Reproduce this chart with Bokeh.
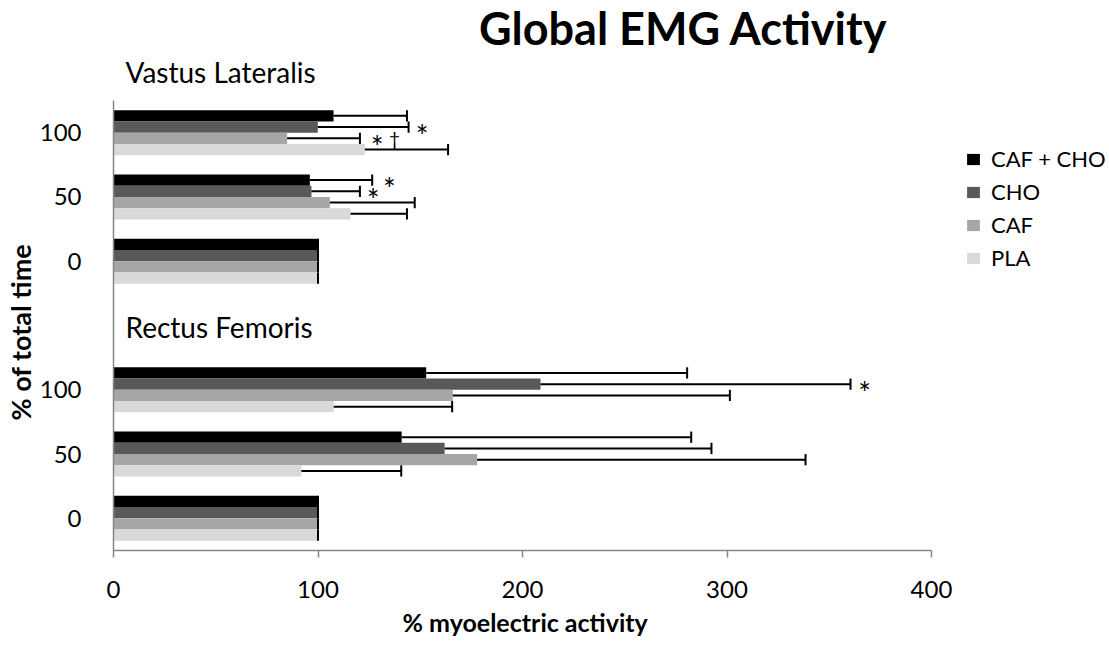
from bokeh.plotting import figure
from bokeh.models import Range1d, Label, Legend, LegendItem, FixedTicker, ColumnDataSource, Title
from bokeh.embed import file_html
from bokeh.resources import INLINE
from bokeh.core.properties import value

# ---------------- data ----------------
groups = ["VL 100", "VL 50", "VL 0", "RF 100", "RF 50", "RF 0"]
group_tick_labels = ["100", "50", "0", "100", "50", "0"]
series = ["CAF + CHO", "CHO", "CAF", "PLA"]

mean_caf_cho = [107.6, 96.0, 100.0, 152.9, 140.9, 100.0]
sd_caf_cho = [35.9, 30.5, 0.0, 127.6, 141.6, 0.0]
mean_cho = [99.9, 96.8, 100.0, 208.8, 161.9, 100.0]
sd_cho = [44.4, 23.7, 0.0, 151.6, 130.5, 0.0]
mean_caf = [84.9, 105.8, 100.0, 165.9, 177.8, 100.0]
sd_caf = [35.6, 41.5, 0.0, 135.5, 160.6, 0.0]
mean_pla = [122.9, 115.9, 100.0, 107.7, 91.9, 100.0]
sd_pla = [40.7, 27.6, 0.0, 57.9, 48.8, 0.0]

x_ticks = [0, 100, 200, 300, 400]
muscle_labels = ["Vastus Lateralis", "Rectus Femoris"]
chart_title = "Global EMG Activity"
x_title = "% myoelectric activity"
y_title = "% of total time"

# significance markers: (series, group, symbol)
sig_series = ["CHO", "CAF", "CAF", "CAF + CHO", "CHO", "CHO"]
sig_group = ["VL 100", "VL 100", "VL 100", "VL 50", "VL 50", "RF 100"]
sig_text = ["*", "*", "\u2020", "*", "*", "*"]

# ---------------- layout / style ----------------
FONT = "Lato"
colors = ["#000000", "#595959", "#a6a6a6", "#d9d9d9"]
means = [mean_caf_cho, mean_cho, mean_caf, mean_pla]
sds = [sd_caf_cho, sd_cho, sd_caf, sd_pla]

W, H = 1109, 645
LEFT, BOTTOM = 113, 95           # px reserved for the axes
X_END_PX = 931                   # pixel where x = 400 sits
Y_TOP_PX = 100                   # pixel where the category axis starts
xmax = x_ticks[-1]
px_per_x = (X_END_PX - LEFT) / xmax
x_hi = (W - LEFT) / px_per_x
n_slots = 7
px_per_y = (H - BOTTOM - Y_TOP_PX) / n_slots
y_lo = -0.5
y_hi = y_lo + (H - BOTTOM) / px_per_y

# slot positions (top to bottom), with an empty slot between muscles
slots = [6 - i - (1 if i >= 3 else 0) for i in range(len(groups))]
bar_h = 0.70 / 4
offsets = [1.5 * bar_h, 0.5 * bar_h, -0.5 * bar_h, -1.5 * bar_h]
sig_dx = [13.6, 17.3, 34.6, 17.3, 13.3, 14.0]  # px to the right of error end


def ypx(py):
    """page pixel row -> data y"""
    return y_hi - py / px_per_y


def xpx(px):
    return (px - LEFT) / px_per_x


p = figure(width=W, height=H,
           x_range=Range1d(0, x_hi), y_range=Range1d(y_lo, y_hi),
           output_backend="svg", toolbar_location=None,
           min_border_left=LEFT, min_border_right=0,
           min_border_top=0, min_border_bottom=BOTTOM)
p.xgrid.visible = False
p.ygrid.visible = False
p.outline_line_color = None
p.background_fill_color = "white"
p.border_fill_color = "white"

renderers = []
for k, s in enumerate(series):
    ys = [sl + offsets[k] for sl in slots]
    src = ColumnDataSource(dict(y=ys, m=means[k], e=[m + d for m, d in zip(means[k], sds[k])],
                                y0=[y - bar_h / 2 for y in ys], y1=[y + bar_h / 2 for y in ys]))
    r = p.hbar(y="y", left=0, right="m", height=bar_h, source=src,
               fill_color=colors[k], line_color=None)
    renderers.append(r)
    p.segment(x0="m", y0="y", x1="e", y1="y", source=src, line_color="black", line_width=2)
    p.segment(x0="e", y0="y0", x1="e", y1="y1", source=src, line_color="black", line_width=2)

# significance markers
sx, sy, st, sfs, syo = [], [], [], [], []
for s, g, t in zip(sig_series, sig_group, sig_text):
    k = series.index(s)
    gi = groups.index(g)
    sx.append(means[k][gi] + sds[k][gi])
    sy.append(slots[gi] + offsets[k])
    st.append(t)
    sfs.append("30px" if t == "*" else "19px")
    syo.append(8 if t == "*" else 0)
p.text(x=sx, y=sy, text=st, x_offset=sig_dx, y_offset=syo,
       text_font=value(FONT), text_font_size=sfs, text_color="black",
       text_align="center", text_baseline="middle")

# axes
xa = p.xaxis[0]
xa.bounds = (0, xmax)
xa.ticker = FixedTicker(ticks=x_ticks)
xa.axis_line_color = "#868686"
xa.axis_line_width = 1.5
xa.major_tick_line_color = "#868686"
xa.major_tick_line_width = 1.5
xa.major_tick_in = 0
xa.major_tick_out = 7
xa.minor_tick_line_color = None
xa.major_label_text_font = FONT
xa.major_label_text_font_size = "24px"
xa.major_label_text_color = "black"
xa.major_label_standoff = 23

ya = p.yaxis[0]
ya.bounds = (y_lo, n_slots - 0.5)
ya.ticker = FixedTicker(ticks=slots)
ya.major_label_overrides = {sl: lab for sl, lab in zip(slots, group_tick_labels)}
ya.axis_line_color = "#868686"
ya.axis_line_width = 1.5
ya.major_tick_line_color = None
ya.minor_tick_line_color = None
ya.major_label_text_font = FONT
ya.major_label_text_font_size = "24px"
ya.major_label_text_color = "black"
ya.major_label_standoff = 26

# axis titles as side-panel titles so they can be centred on the bounded axes
p.add_layout(Title(text=x_title, text_font=FONT, text_font_size="25px",
                   text_font_style="bold", text_color="black",
                   align="left", offset=289, standoff=8), "below")
p.add_layout(Title(text=y_title, text_font=FONT, text_font_size="27px",
                   text_font_style="bold", text_color="black",
                   align="left", offset=130, standoff=0), "left")

# title and group labels (inside the frame area, above/beside the bars)
p.add_layout(Label(x=xpx(683), y=ypx(27), text=chart_title, text_font=FONT,
                   text_font_size="45px", text_font_style="bold", text_color="black",
                   text_align="center", text_baseline="alphabetic"))
p.add_layout(Label(x=xpx(125), y=ypx(81 - 10), text=muscle_labels[0], text_font=FONT,
                   text_font_size="28px", text_color="black",
                   text_align="left", text_baseline="alphabetic"))
p.add_layout(Label(x=xpx(125), y=ypx(336 - 10), text=muscle_labels[1], text_font=FONT,
                   text_font_size="28px", text_color="black",
                   text_align="left", text_baseline="alphabetic"))

legend = Legend(items=[LegendItem(label=s, renderers=[r]) for s, r in zip(series, renderers)],
                location=(965 - LEFT, (H - BOTTOM) - 272), glyph_width=16, glyph_height=14,
                label_standoff=10, label_height=29, spacing=4, padding=0, margin=0,
                label_text_font=FONT, label_text_font_size="22px", label_text_color="black",
                border_line_color=None, background_fill_alpha=0)
p.add_layout(legend)

open("out.html", "w").write(file_html(p, INLINE))
